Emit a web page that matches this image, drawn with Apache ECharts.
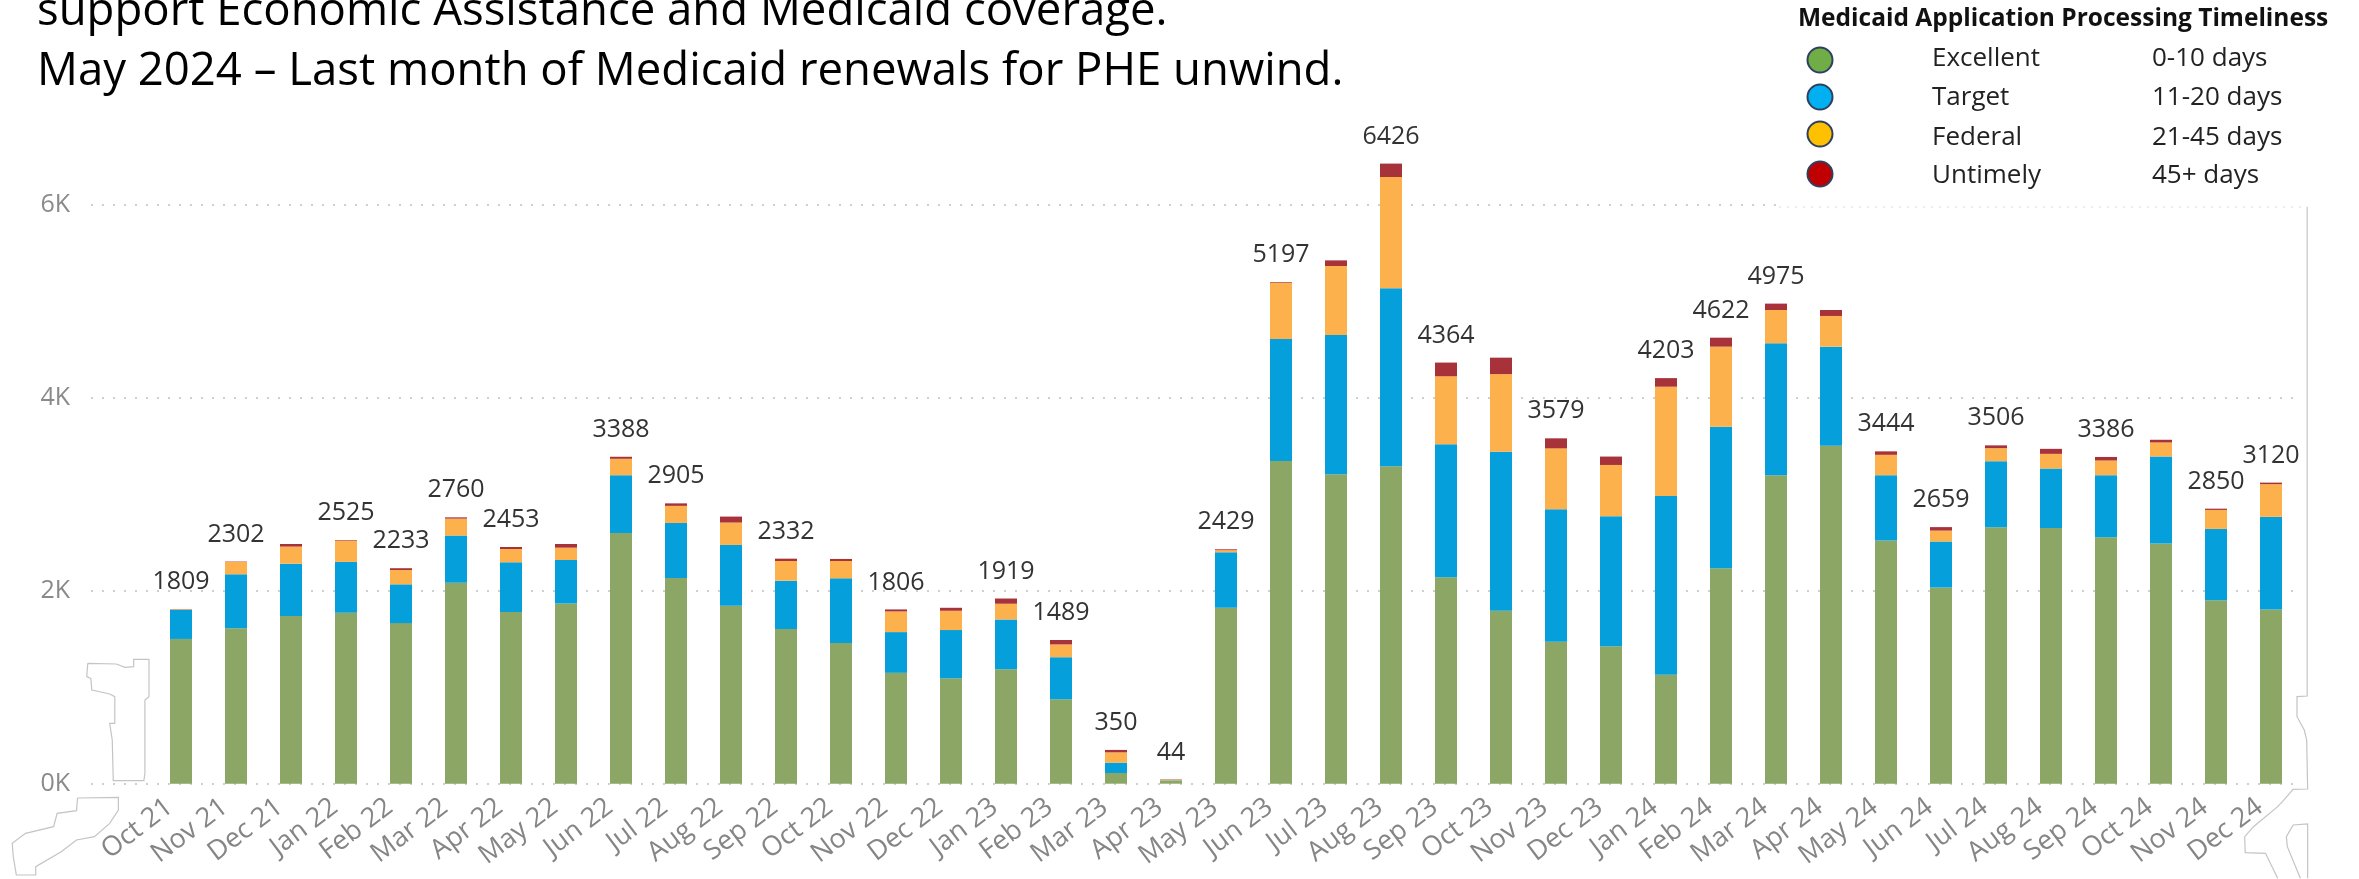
<!DOCTYPE html>
<html>
<head>
<meta charset="utf-8">
<style>html,body{margin:0;padding:0;background:#fff}#c{width:2359px;height:879px}</style>
<script src="https://cdn.jsdelivr.net/npm/echarts@6/dist/echarts.min.js"></script>
</head>
<body>
<div id="c"></div>
<script>
const months = ['Oct 21','Nov 21','Dec 21','Jan 22','Feb 22','Mar 22','Apr 22','May 22','Jun 22','Jul 22','Aug 22','Sep 22','Oct 22','Nov 22','Dec 22','Jan 23','Feb 23','Mar 23','Apr 23','May 23','Jun 23','Jul 23','Aug 23','Sep 23','Oct 23','Nov 23','Dec 23','Jan 24','Feb 24','Mar 24','Apr 24','May 24','Jun 24','Jul 24','Aug 24','Sep 24','Oct 24','Nov 24','Dec 24'];
const excellent = [1500,1612,1737,1772,1664,2083,1778,1868,2598,2131,1844,1602,1457,1149,1093,1187,875,111,35,1823,3344,3206,3289,2139,1793,1471,1425,1128,2232,3197,3502,2519,2034,2657,2650,2553,2488,1900,1806];
const target = [300,558,543,526,402,488,516,450,599,571,630,502,671,422,499,515,436,107,1,575,1264,1443,1845,1378,1647,1372,1346,1854,1468,1367,1027,678,475,685,616,644,903,740,959];
const federal = [6,128,177,221,148,176,138,128,170,177,232,204,180,214,200,163,132,107,4,22,582,716,1153,705,805,632,532,1132,829,345,318,211,114,135,152,152,145,197,339];
const untimely = [3,4,27,6,19,13,21,38,21,26,62,24,21,21,31,54,46,25,4,9,7,58,139,142,170,104,87,89,93,66,62,36,36,29,52,37,28,13,16];
const totalLabels = [1809,2302,null,2525,2233,2760,2453,null,3388,2905,null,2332,null,1806,null,1919,1489,350,44,2429,5197,null,6426,4364,null,3579,null,4203,4622,4975,null,3444,2659,3506,null,3386,null,2850,3120];
const legendNames = ['Excellent','Target','Federal','Untimely'];
const legendDays = ['0-10 days','11-20 days','21-45 days','45+ days'];
const legendColors = ['#70AD47','#00B0F0','#FFC000','#C00000'];
const legendY = [60,97,134,174];
const legendTextY = [59,98,138,176];
const titleLines = ['support Economic Assistance and Medicaid coverage.','May 2024 \u2013 Last month of Medicaid renewals for PHE unwind.'];
const titleBaselines = [23,83];
const barColors = ['#8BA665','#059FDB','#FDB14D','#A8323A'];

const FONT = '"Open Sans", sans-serif';
const outlineColor = '#c4c4c4';
function fromLeft(p){return p.map(q=>[q[0]/1.96,440+q[1]/3]);}
function fromRight(p){return p.map(q=>[1600+q[0]/2.066,440+q[1]/3]);}
const outlines = [
 fromLeft([[172,670],[228,672],[245,682],[262,680],[262,658],[292,658],[292,770],[284,780],[284,1000],[282,1022],[222,1022],[220,900],[215,850],[225,850],[225,770],[215,762],[180,750],[178,715],[170,710],[172,670]]),
 fromLeft([[152,1074],[232,1072],[232,1110],[215,1150],[185,1190],[150,1200],[120,1235],[70,1280],[70,1305],[32,1305],[26,1250],[24,1210],[50,1180],[105,1160],[112,1120],[150,1112],[152,1074]]),
 fromRight([[1461,-700],[1461,768],[1440,770],[1440,830],[1455,870],[1460,900],[1462,1047],[1432,1048],[1410,1085],[1400,1100],[1350,1160],[1332,1190],[1333,1238],[1375,1240],[1400,1315]]),
 fromRight([[1462,1315],[1462,1152],[1432,1155],[1418,1190],[1420,1220],[1447,1315]])
];
const graphics = [];
titleLines.forEach((t,i)=>graphics.push({type:'text',x:37,y:titleBaselines[i]+12,style:{text:t,font:'45.5px '+FONT,fill:'#000',verticalAlign:'bottom'}}));
graphics.push({type:'text',x:1798,y:19,style:{text:'Medicaid Application Processing Timeliness',font:'bold 24.5px '+FONT,fill:'#111',verticalAlign:'middle'}});
legendNames.forEach((n,i)=>{
  graphics.push({type:'circle',shape:{cx:1820,cy:legendY[i],r:12.5},style:{fill:legendColors[i],stroke:'#2F3F60',lineWidth:2}});
  graphics.push({type:'text',x:1932,y:legendTextY[i],style:{text:n,font:'26px '+FONT,fill:'#222',verticalAlign:'middle'}});
  graphics.push({type:'text',x:2152,y:legendTextY[i],style:{text:legendDays[i],font:'26px '+FONT,fill:'#222',verticalAlign:'middle'}});
});
graphics.push({type:'rect',shape:{x:1779,y:202,width:535,height:5},style:{fill:'#fff'},z:1});
graphics.push({type:'line',shape:{x1:1779,y1:207,x2:2307,y2:207},style:{stroke:'#dcdcdc',lineWidth:1,lineDash:[2,6]},z:2});
outlines.forEach(p=>graphics.push({type:'polyline',shape:{points:p},style:{fill:'none',stroke:outlineColor,lineWidth:1.2},z:2}));

const chart = echarts.init(document.getElementById('c'),null,{renderer:'canvas'});
const plotTop = 146.8, plotBottom = 879-783.7;
const barSeries = [excellent,target,federal,untimely].map((d,i)=>({
  name:legendNames[i],type:'bar',stack:'a',data:d,barWidth:22,xAxisIndex:0,yAxisIndex:0,
  itemStyle:{color:barColors[i]},z:3
}));
chart.setOption({
  animation:false,
  backgroundColor:'#fff',
  grid:[
    {left:153.5,right:2359-2298.5,top:plotTop,bottom:plotBottom},
    {left:91,right:2359-2302,top:plotTop,bottom:plotBottom}
  ],
  xAxis:[
    {type:'category',gridIndex:0,data:months,boundaryGap:true,
     axisLine:{show:false},axisTick:{show:false},
     axisLabel:{interval:0,rotate:37,fontFamily:FONT,fontSize:27,color:'#858585',margin:12,padding:[0,14,0,0],hideOverlap:false}},
    {type:'category',gridIndex:1,data:months,show:false}
  ],
  yAxis:[
    {type:'value',gridIndex:0,min:0,max:6600,interval:2000,show:false,splitLine:{show:false}},
    {type:'value',gridIndex:1,min:0,max:6600,interval:2000,
     axisLine:{show:false},axisTick:{show:false},
     axisLabel:{fontFamily:FONT,fontSize:25,color:'#8a8a8a',margin:21,showMaxLabel:false,formatter:v=>(v/1000)+'K'},
     splitLine:{show:true,showMaxLine:false,lineStyle:{color:'#cfcfcf',width:2,type:[2,9]}}}
  ],
  series:barSeries.concat([{
    name:'Total',type:'line',data:totalLabels,xAxisIndex:0,yAxisIndex:0,connectNulls:false,
    showSymbol:true,symbol:'circle',symbolSize:1,itemStyle:{opacity:0},lineStyle:{opacity:0},z:5,
    label:{show:true,position:'top',distance:14,fontFamily:FONT,fontSize:25,color:'#333',opacity:1}
  }]),
  graphic:{elements:graphics}
});
</script>
</body>
</html>
